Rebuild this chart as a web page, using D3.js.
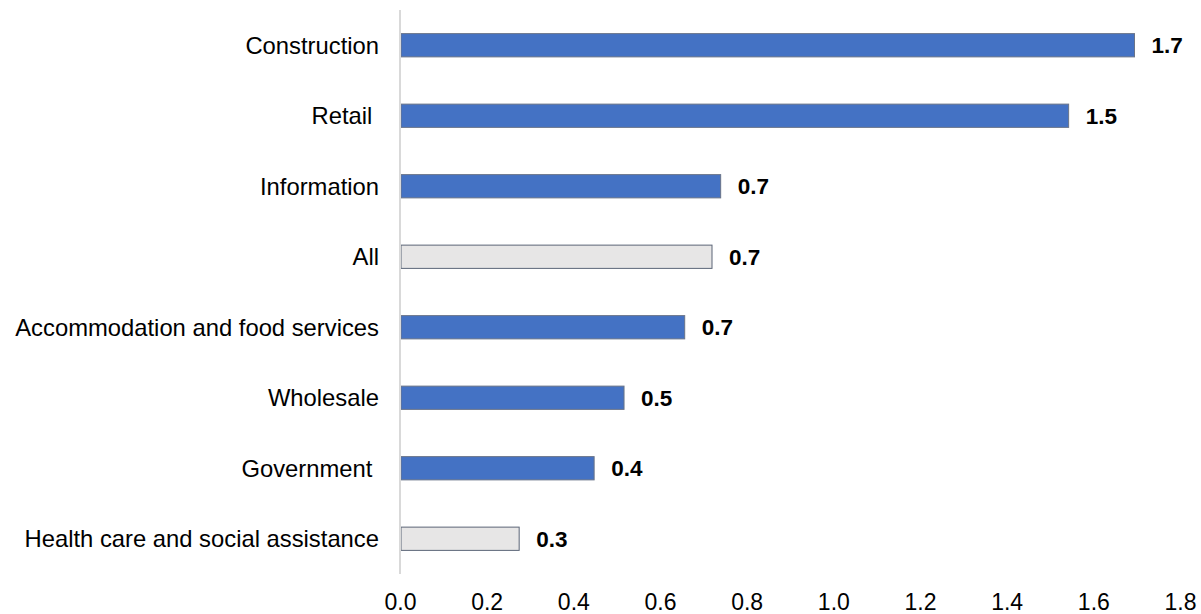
<!DOCTYPE html>
<html>
<head>
<meta charset="utf-8">
<script src="https://cdn.jsdelivr.net/npm/d3@7"></script>
<style>
  html, body { margin: 0; padding: 0; background: #ffffff; }
  svg { display: block; }
  text { font-family: Arial, "Liberation Sans", sans-serif; fill: #000000; }
</style>
</head>
<body>
<svg id="chart" width="1201" height="614"></svg>
<script>
// Industries, top to bottom
const categories = [
  "Construction",
  "Retail ",
  "Information",
  "All",
  "Accommodation and food services",
  "Wholesale",
  "Government ",
  "Health care and social assistance"
];
// Value for each industry
const values = [1.695, 1.543, 0.740, 0.720, 0.657, 0.517, 0.448, 0.275];
// Grey bars mark the overall figure and the reference sector
const highlighted = [false, false, false, true, false, false, false, true];
// X-axis ticks
const tickValues = [0, 0.2, 0.4, 0.6, 0.8, 1.0, 1.2, 1.4, 1.6, 1.8];

const rows = categories.map((c, i) => ({ name: c, value: values[i], grey: highlighted[i] }));

const svg = d3.select("#chart");

const x = d3.scaleLinear().domain([0, 1.8]).range([400, 1180]);
const y = d3.scaleBand()
  .domain(categories)
  .range([10, 574])
  .paddingInner(0.67)
  .paddingOuter(0.335);

// Bars
svg.append("g")
  .selectAll("rect")
  .data(rows)
  .join("rect")
  .attr("x", x(0) + 1)
  .attr("y", d => y(d.name))
  .attr("width", d => x(d.value) - x(0) - 1)
  .attr("height", y.bandwidth())
  .attr("fill", d => d.grey ? "#e7e6e6" : "#4472c4")
  .attr("stroke", d => d.grey ? "#5b6577" : "#6a7488")
  .attr("stroke-width", 1);

// Vertical baseline at zero
svg.append("line")
  .attr("x1", x(0)).attr("x2", x(0))
  .attr("y1", 10).attr("y2", 574)
  .attr("stroke", "#d9d9d9")
  .attr("stroke-width", 2);

// Category labels
svg.append("g")
  .selectAll("text")
  .data(rows)
  .join("text")
  .attr("x", 379)
  .attr("y", d => y(d.name) + y.bandwidth() / 2)
  .attr("dy", "0.35em")
  .attr("text-anchor", "end")
  .style("white-space", "pre")
  .style("font-size", "23.8px")
  .text(d => d.name);

// Value labels
const fmt = d3.format(".1f");
svg.append("g")
  .selectAll("text")
  .data(rows)
  .join("text")
  .attr("x", d => x(d.value) + 17)
  .attr("y", d => y(d.name) + y.bandwidth() / 2)
  .attr("dy", "0.35em")
  .style("font-size", "22.5px")
  .style("font-weight", "bold")
  .text(d => fmt(d.value));

// X axis tick labels
const xAxis = d3.axisBottom(x)
  .tickValues(tickValues)
  .tickFormat(d3.format(".1f"))
  .tickSize(0)
  .tickPadding(0);

const gx = svg.append("g")
  .attr("transform", "translate(0,610)")
  .call(xAxis);
gx.select(".domain").remove();
gx.selectAll("text")
  .attr("dy", "0")
  .style("font-size", "23px")
  .style("font-family", "Arial, 'Liberation Sans', sans-serif")
  .attr("fill", "#000000");
</script>
</body>
</html>
